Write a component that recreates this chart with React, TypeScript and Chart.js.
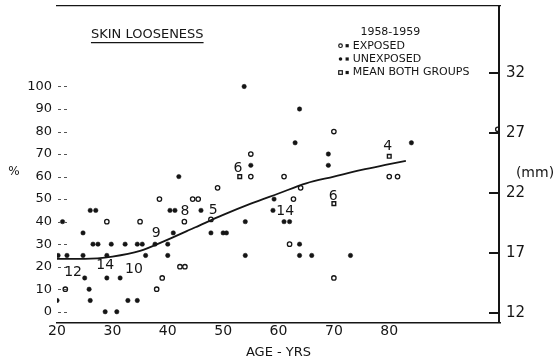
import { useEffect, useRef } from "react";
import { Chart, registerables } from "chart.js";

Chart.register(...registerables);

// Axis ticks
const ageTicks = [20, 30, 40, 50, 60, 70, 80];
const pctTicks = [0, 10, 20, 30, 40, 50, 60, 70, 80, 90, 100];
const mmTicks = [12, 17, 22, 27, 32];

// Exposed group (open circles)
const exposedAge = [21.5, 29, 35, 38, 38.5, 39, 42.2, 43.1, 43, 44.5, 45.5, 47.8, 49, 55, 55, 61, 62.7, 62, 64, 70, 70, 80, 81.5, 99.6];
const exposedPct = [10, 40, 40, 10, 50, 15, 20, 20, 40, 50, 50, 41, 55, 60, 70, 60, 50, 30, 55, 80, 15, 60, 60, 81];

// Unexposed group (filled dots)
const unexposedAge = [
  20, 20.2, 21, 21.8, 24.7, 24.7, 25, 25.8, 26, 26, 27, 26.5, 27.4, 29, 29, 28.7, 29.8, 30.8, 31.4, 32.3,
  32.8, 34.5, 34.5, 35.4, 36, 37.7, 40, 40, 41, 40.4, 41.3, 42, 46, 47.8, 50, 50.6, 53.8, 54, 54, 55,
  59, 59.2, 61, 62, 63, 63.8, 63.8, 63.8, 66, 69, 69, 73, 84,
];
const unexposedPct = [
  5, 25, 40, 25, 35, 25, 15, 10, 5, 45, 45, 30, 30, 25, 15, 0, 30, 0, 15, 30,
  5, 5, 30, 30, 25, 30, 25, 30, 35, 45, 45, 60, 45, 35, 35, 35, 100, 40, 25, 65,
  45, 50, 40, 40, 75, 90, 30, 25, 25, 70, 65, 25, 75,
];

// Group means
const meanAge = [53, 70, 80];
const meanPct = [60, 48, 69];

// Smoothed trend of both groups
const curveAge = [20, 25, 30, 35, 40, 45, 50, 55, 60, 65, 70, 75, 80, 83];
const curvePct = [23.5, 23.5, 24.5, 27, 32, 37.5, 43, 48, 52.5, 57, 60, 63, 65.5, 67];

// Number of cases at crowded positions
const countText = ["12", "14", "10", "9", "8", "5", "6", "14", "6", "4"];
const countAge = [22.9, 28.7, 33.9, 37.9, 43.1, 48.2, 52.7, 61.2, 69.9, 79.7];
const countPct = [17.7, 20.8, 19, 35, 44.7, 45, 63.7, 44.7, 51.3, 73.5];

const legendRows = ["EXPOSED", "UNEXPOSED", "MEAN BOTH GROUPS"];

const INK = "#151515";
const FONT = "'DejaVu Sans', sans-serif";

const pts = (xs: number[], ys: number[]) => xs.map((x, i) => ({ x, y: ys[i] }));

const decorations = {
  id: "decorations",
  afterDraw(chart: any) {
    const ctx: CanvasRenderingContext2D = chart.ctx;
    const { x, y, y2 } = chart.scales;
    const ca = chart.chartArea;
    const right = Math.round(ca.right);

    ctx.save();
    ctx.strokeStyle = INK;
    ctx.fillStyle = INK;

    // right-hand frame rule, filled so it stays crisp
    ctx.fillRect(right - 2, Math.round(ca.top), 2, Math.round(ca.bottom - ca.top));

    // right-hand tick marks, pointing into the plot
    for (const v of mmTicks) {
      const py = Math.round(y2.getPixelForValue(v));
      ctx.fillRect(right - 11, py - 1, 10, 2);
    }

    // left-hand dashed tick marks
    ctx.strokeStyle = "#555";
    ctx.lineWidth = 1;
    ctx.setLineDash([3, 3]);
    for (const v of pctTicks) {
      const py = Math.round(y.getPixelForValue(v)) + 0.5;
      ctx.beginPath();
      ctx.moveTo(ca.left + 1, py);
      ctx.lineTo(ca.left + 11, py);
      ctx.stroke();
    }
    ctx.setLineDash([]);
    ctx.strokeStyle = INK;

    // case counts
    ctx.font = `14px ${FONT}`;
    ctx.textAlign = "center";
    ctx.textBaseline = "middle";
    countText.forEach((t, i) => {
      ctx.fillText(t, x.getPixelForValue(countAge[i]), y.getPixelForValue(countPct[i]));
    });

    // title with underline
    const tx = x.getPixelForValue(36.3);
    const ty = y.getPixelForValue(123);
    ctx.font = `13px ${FONT}`;
    ctx.fillText("SKIN LOOSENESS", tx, ty);
    const tw = ctx.measureText("SKIN LOOSENESS").width;
    ctx.lineWidth = 1.2;
    ctx.beginPath();
    ctx.moveTo(tx - tw / 2, ty + 8);
    ctx.lineTo(tx + tw / 2, ty + 8);
    ctx.stroke();

    // legend
    ctx.font = `11px ${FONT}`;
    ctx.fillText("1958-1959", x.getPixelForValue(80.2), y.getPixelForValue(124.2));
    ctx.textAlign = "left";
    const rowPct = [118.1, 112.2, 106.2];
    const m1 = x.getPixelForValue(71.2);
    const m2 = x.getPixelForValue(72.4);
    const lx = x.getPixelForValue(73.4);
    legendRows.forEach((label, i) => {
      const py = y.getPixelForValue(rowPct[i]);
      ctx.fillText(label, lx, py);
      ctx.lineWidth = 1.2;
      ctx.beginPath();
      if (i === 0) {
        ctx.arc(m1, py, 1.8, 0, Math.PI * 2);
        ctx.stroke();
      } else if (i === 1) {
        ctx.arc(m1, py, 1.8, 0, Math.PI * 2);
        ctx.fill();
      } else {
        ctx.strokeRect(m1 - 1.8, py - 1.8, 3.6, 3.6);
      }
      ctx.fillRect(m2 - 1.6, py - 1.6, 3.2, 3.2);
    });

    // unit labels
    ctx.textAlign = "center";
    ctx.font = `12px ${FONT}`;
    ctx.fillText("%", ca.left - 43, y.getPixelForValue(62));
    ctx.font = `14px ${FONT}`;
    ctx.fillText("(mm)", ca.right + 35, y.getPixelForValue(61.5));
    ctx.restore();
  },
};

const noPad = (s: any) => {
  s.paddingTop = 0;
  s.paddingBottom = 0;
  s.paddingLeft = 0;
  s.paddingRight = 0;
};

const fixedTicks = (values: number[]) => (s: any) => {
  s.ticks = values.map((value) => ({ value }));
};

export default function App() {
  const canvasRef = useRef<HTMLCanvasElement | null>(null);

  useEffect(() => {
    const canvas = canvasRef.current;
    if (!canvas) return;
    const chart = new Chart(canvas, {
      type: "scatter",
      data: {
        datasets: [
          {
            type: "line",
            label: "trend",
            data: pts(curveAge, curvePct),
            borderColor: INK,
            borderWidth: 1.8,
            pointRadius: 0,
            cubicInterpolationMode: "monotone",
            fill: false,
          },
          {
            label: "exposed",
            data: pts(exposedAge, exposedPct),
            pointStyle: "circle",
            radius: 2.2,
            borderWidth: 1.3,
            borderColor: INK,
            backgroundColor: "#ffffff",
          },
          {
            label: "unexposed",
            data: pts(unexposedAge, unexposedPct),
            pointStyle: "circle",
            radius: 2.2,
            borderWidth: 0.5,
            borderColor: INK,
            backgroundColor: INK,
          },
          {
            label: "mean",
            data: pts(meanAge, meanPct),
            pointStyle: "rect",
            radius: 2.6,
            borderWidth: 1.4,
            borderColor: INK,
            backgroundColor: "#ffffff",
          },
        ],
      } as any,
      options: {
        responsive: false,
        animation: false,
        layout: { padding: { top: 5, left: 0, right: 0, bottom: 0 } },
        plugins: { legend: { display: false }, tooltip: { enabled: false } },
        scales: {
          x: {
            type: "linear",
            min: 20,
            max: 100,
            grid: { display: false, drawTicks: false },
            border: { display: true, color: INK, width: 1.5 },
            afterBuildTicks: fixedTicks(ageTicks),
            afterFit: (s: any) => {
              s.height = 39;
              noPad(s);
            },
            ticks: { color: INK, font: { family: FONT, size: 14 }, padding: 0, maxRotation: 0 },
            title: {
              display: true,
              text: "AGE - YRS",
              color: INK,
              font: { family: FONT, size: 13 },
              padding: { top: 0, bottom: 2 },
            },
          },
          xTop: {
            type: "linear",
            position: "top",
            min: 20,
            max: 100,
            grid: { display: false, drawTicks: false },
            border: { display: true, color: INK, width: 1.3 },
            ticks: { display: false },
            afterFit: (s: any) => {
              s.height = 0;
              noPad(s);
            },
          },
          y: {
            type: "linear",
            position: "left",
            min: -5,
            max: 136,
            grid: { display: false, drawTicks: false },
            border: { display: false },
            afterBuildTicks: fixedTicks(pctTicks),
            afterFit: (s: any) => {
              s.width = 57;
              noPad(s);
            },
            ticks: { color: INK, font: { family: FONT, size: 13 }, padding: 5 },
          },
          y2: {
            type: "linear",
            position: "right",
            min: 11.17,
            max: 37.67,
            grid: { display: false, drawTicks: false },
            border: { display: false },
            afterBuildTicks: fixedTicks(mmTicks),
            afterFit: (s: any) => {
              s.width = 57;
              noPad(s);
            },
            ticks: { color: INK, font: { family: FONT, size: 15 }, padding: 6 },
          },
        },
      } as any,
      plugins: [decorations],
    });
    return () => chart.destroy();
  }, []);

  return (
    <div style={{ position: "fixed", left: 0, top: 0, width: 557, height: 362, background: "#fff" }}>
      <canvas ref={canvasRef} width={557} height={362} style={{ display: "block" }} />
    </div>
  );
}
